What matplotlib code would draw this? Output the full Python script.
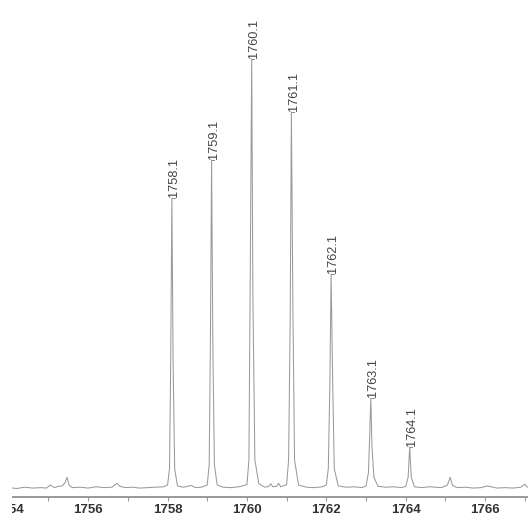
import matplotlib
matplotlib.use("Agg")
import matplotlib.pyplot as plt
from matplotlib.ticker import MultipleLocator
from matplotlib.patches import Rectangle

plt.rcParams['font.family'] = ['Liberation Sans', 'DejaVu Sans']

# Spectrum trace (m/z, relative intensity)
mz_trace = [
    1753.80, 1754.00, 1754.20, 1754.40, 1754.60, 1754.80, 1754.95, 1755.05, 1755.15, 1755.25,
    1755.35, 1755.42, 1755.47, 1755.52, 1755.60, 1755.80, 1756.00, 1756.20, 1756.40, 1756.60,
    1756.68, 1756.73, 1756.80, 1756.95, 1757.10, 1757.30, 1757.50, 1757.70, 1757.90, 1758.00,
    1758.05, 1758.08, 1758.11, 1758.14, 1758.18, 1758.25, 1758.40, 1758.60, 1758.70, 1758.85,
    1759.00, 1759.05, 1759.08, 1759.11, 1759.14, 1759.18, 1759.25, 1759.40, 1759.60, 1759.80,
    1760.00, 1760.05, 1760.08, 1760.12, 1760.15, 1760.20, 1760.30, 1760.45, 1760.55, 1760.60,
    1760.65, 1760.75, 1760.80, 1760.85, 1761.00, 1761.05, 1761.09, 1761.12, 1761.16, 1761.20,
    1761.30, 1761.50, 1761.70, 1761.90, 1762.00, 1762.05, 1762.09, 1762.12, 1762.16, 1762.20,
    1762.30, 1762.50, 1762.70, 1762.90, 1763.00, 1763.06, 1763.09, 1763.12, 1763.15, 1763.20,
    1763.30, 1763.50, 1763.70, 1763.90, 1764.00, 1764.06, 1764.10, 1764.14, 1764.22, 1764.40,
    1764.60, 1764.75, 1764.90, 1765.05, 1765.12, 1765.18, 1765.30, 1765.50, 1765.70, 1765.90,
    1766.05, 1766.10, 1766.30, 1766.50, 1766.70, 1766.90, 1767.00, 1767.05, 1767.10,
]
int_trace = [
    0.5, 0.6, 0.4, 0.7, 0.5, 0.6, 0.5, 1.2, 0.6, 0.9,
    1.0, 1.8, 3.0, 1.2, 0.6, 0.7, 0.5, 0.8, 0.6, 0.7,
    1.3, 1.6, 0.9, 0.6, 0.7, 0.5, 0.6, 0.7, 0.8, 1.2,
    5.0, 30.0, 67.7, 30.0, 5.0, 1.0, 0.7, 1.1, 0.6, 0.7,
    1.2, 6.0, 35.0, 76.6, 35.0, 6.0, 1.2, 0.7, 0.6, 0.8,
    1.3, 7.0, 45.0, 100.0, 45.0, 7.0, 1.5, 0.7, 0.9, 1.5,
    0.8, 0.9, 1.6, 0.8, 1.3, 7.0, 40.0, 87.7, 40.0, 7.0,
    1.2, 0.7, 0.6, 0.8, 1.2, 5.0, 25.0, 50.1, 25.0, 5.0,
    1.0, 0.7, 0.8, 0.6, 1.0, 4.0, 12.0, 21.3, 10.0, 3.0,
    0.9, 0.7, 0.8, 0.6, 0.9, 3.0, 10.0, 3.0, 0.8, 0.6,
    0.8, 0.7, 0.6, 1.2, 3.0, 1.1, 0.6, 0.7, 0.5, 0.6,
    1.0, 0.9, 0.5, 0.6, 0.5, 0.7, 1.4, 0.8, 0.6,
]

# labelled peaks
peak_mz = [1758.11, 1759.11, 1760.12, 1761.12, 1762.12, 1763.12, 1764.10]
peak_int = [67.7, 76.6, 100.0, 87.7, 50.1, 21.3, 10.0]
peak_labels = ["1758.1", "1759.1", "1760.1", "1761.1", "1762.1", "1763.1", "1764.1"]

fig = plt.figure(figsize=(5.28, 5.20), dpi=100)
ax = fig.add_axes([0, 0.044, 1, 0.956])

ax.plot(mz_trace, int_trace, color="#9a9a9a", lw=0.75)

for x, y, lab in zip(peak_mz, peak_int, peak_labels):
    ax.plot([x, x + 0.07], [y, y], color="#8c8c8c", lw=0.7)
    ax.text(x + 0.06, y + 0.3, lab, rotation=90, ha="center", va="bottom",
            fontsize=9.2, color="#444444")

ax.set_xlim(1753.78, 1767.08)
ax.set_ylim(-1.6, 113.7)

for s in ["left", "top", "right"]:
    ax.spines[s].set_visible(False)
ax.spines["bottom"].set_color("#999999")
ax.spines["bottom"].set_linewidth(1.4)

ax.set_yticks([])
ax.xaxis.set_major_locator(MultipleLocator(2))
ax.xaxis.set_minor_locator(MultipleLocator(1))
ax.tick_params(axis="x", which="both", length=3, width=0.8, color="#999999", pad=2)
ax.tick_params(axis="x", which="major", labelsize=9.5, labelcolor="#333333")
for t in ax.get_xticklabels():
    t.set_fontweight("bold")

# the scanned figure is cropped at its left edge
fig.patches.append(Rectangle((0, 0), 12 / 528, 1, transform=fig.transFigure,
                             facecolor="white", edgecolor="none", zorder=10))

fig.savefig("out.png", dpi=100)
